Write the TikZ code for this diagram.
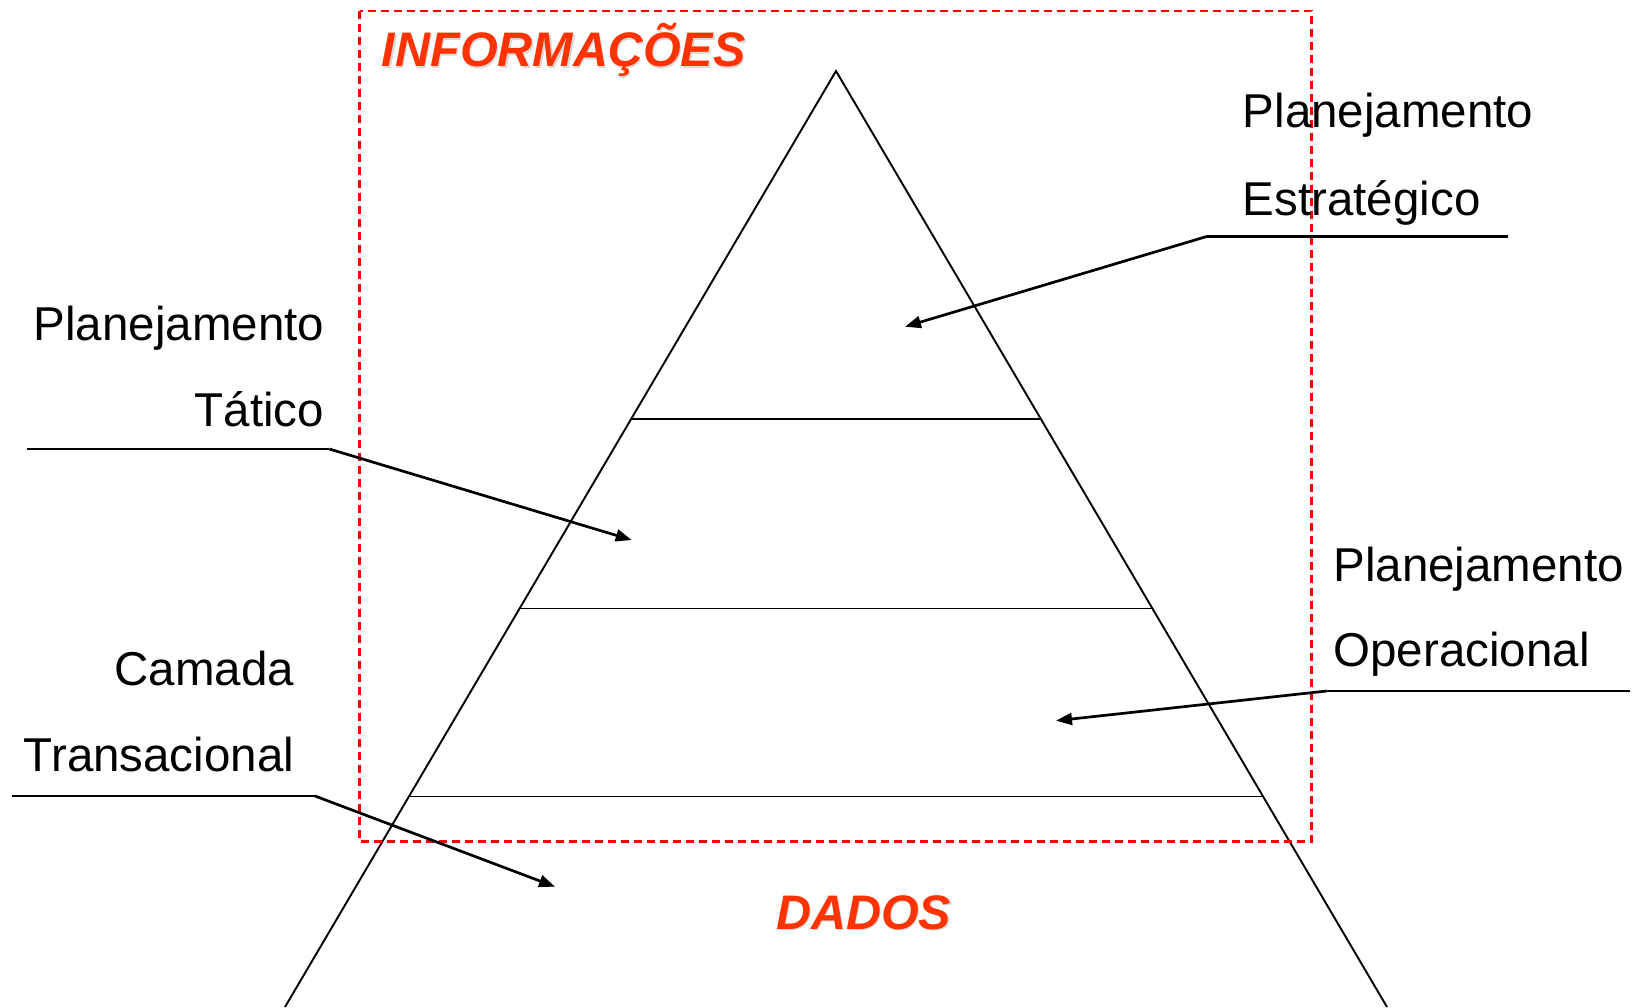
\documentclass[tikz,border=0pt]{standalone}
\usepackage{fontspec}
\setmainfont{Liberation Sans}
\usepackage{xcolor}
\usepackage{tikz}
\usetikzlibrary{arrows.meta,calc}
\definecolor{infored}{RGB}{255,51,0}
\tikzset{
    layer/.style={line width=1.9pt, black},
    frame/.style={draw=red, line width=2.2pt, dash pattern=on 8pt off 5pt},
    callout/.style={line width=2.7pt, black},
    pointer/.style={callout, -{Triangle[length=16pt, width=12pt]}},
    label/.style={inner sep=0pt, font=\fontsize{47.5}{57}\selectfont},
    title/.style={label, text=infored, font=\fontsize{48.5}{58}\selectfont\bfseries\itshape},
    titleshadow/.style={title, text=black!15}
}

\begin{document}
\begin{tikzpicture}[x=1pt, y=-1pt]
\useasboundingbox (0,0) rectangle (1641,1007);

% Pyramid
\coordinate (top) at (836,71);
\coordinate (bl) at (285,1007);
\coordinate (br) at (1387,1007);
\draw[layer] (bl) -- (top) -- (br);
\foreach \t in {0.3714, 0.5743, 0.7751}
    \draw[layer] ($(top)!\t!(bl)$) -- ($(top)!\t!(br)$);

% Dashed frame
\draw[frame] (359.5,11) rectangle (1311.5,841.5);

% Titles
\node[titleshadow, anchor=base west] (infosh) at (383.2,68.2) {INFORMAÇÕES};
\node[title, anchor=base west] (info) at (381.7,66.7) {INFORMAÇÕES};
\node[titleshadow, anchor=base west] (dadossh) at (777.5,930.5) {DADOS};
\node[title, anchor=base west] (dados) at (776,929) {DADOS};

% Strategic
\node[label, anchor=base west] (estr1) at (1242.7,127.3) {Planejamento};
\node[label, anchor=base west] (estr2) at (1242.7,215) {Estratégico};
\coordinate (estrend) at (1508.3,236.7);
\coordinate (estrknee) at (1206,236.7);
\coordinate (estrtip) at (905,326.7);
\draw[callout] (estrend) -- (estrknee);
\draw[pointer] (estrknee) -- (estrtip);

% Tactical
\node[label, anchor=base east] (tat1) at (324.3,340) {Planejamento};
\node[label, anchor=base east] (tat2) at (324.3,426.7) {Tático};
\coordinate (tatend) at (27.3,449);
\coordinate (tatknee) at (329.3,449);
\coordinate (tattip) at (631.7,540);
\draw[callout] (tatend) -- (tatknee);
\draw[pointer] (tatknee) -- (tattip);

% Operational
\node[label, anchor=base west] (op1) at (1333.3,581.7) {Planejamento};
\node[label, anchor=base west] (op2) at (1333.3,666.7) {Operacional};
\coordinate (opend) at (1629.6,691);
\coordinate (opknee) at (1326.7,691);
\coordinate (optip) at (1056,720.7);
\draw[callout] (opend) -- (opknee);
\draw[pointer] (opknee) -- (optip);

% Transactional
\node[label, anchor=base east] (tr1) at (294.3,685) {Camada};
\node[label, anchor=base east] (tr2) at (294.3,771.7) {Transacional};
\coordinate (trend) at (11.7,796);
\coordinate (trknee) at (315,796);
\coordinate (trtip) at (555,886.7);
\draw[callout] (trend) -- (trknee);
\draw[pointer] (trknee) -- (trtip);
\end{tikzpicture}
\end{document}
